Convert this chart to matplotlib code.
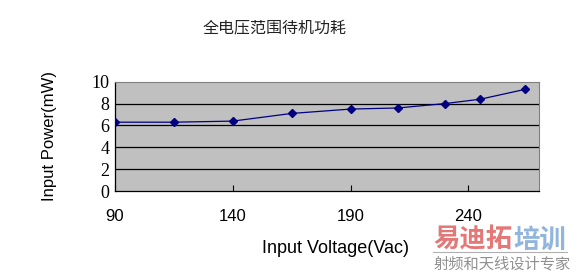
import matplotlib.pyplot as plt

plt.rcParams['font.family'] = ['Liberation Sans', 'Noto Sans CJK SC', 'DejaVu Sans']

# data
voltage = [90, 115, 140, 165, 190, 210, 230, 245, 264]
power = [6.3, 6.3, 6.4, 7.1, 7.5, 7.6, 8.0, 8.4, 9.3]
x_ticks = [90, 140, 190, 240]
y_ticks = [0, 2, 4, 6, 8, 10]

fig = plt.figure(figsize=(5.86, 2.77), dpi=100)
ax = fig.add_axes([0.196, 0.31, 0.724, 0.395])

ax.set_facecolor('#c0c0c0')
ax.plot(voltage, power, color='#000080', lw=0.9, marker='D', markersize=4.5,
        markerfacecolor='#000080', markeredgecolor='#000080', zorder=3)

ax.set_xlim(90, 270)
ax.set_ylim(0, 10)
ax.set_xticks(x_ticks)
ax.set_yticks(y_ticks)
for y in y_ticks[1:-1]:
    ax.axhline(y, color='black', lw=0.9, zorder=1)

ax.tick_params(axis='x', direction='in', length=4, width=0.8, pad=13, labelsize=12)
ax.tick_params(axis='y', length=0, pad=4, labelsize=13)
for lab in ax.get_yticklabels():
    lab.set_family('Liberation Serif')

for s in ['top', 'right']:
    ax.spines[s].set_color('#808080')
    ax.spines[s].set_linewidth(0.8)
for s in ['left', 'bottom']:
    ax.spines[s].set_color('black')
    ax.spines[s].set_linewidth(0.9)

ax.set_xlabel('Input Voltage(Vac)', fontsize=13, labelpad=12)
ax.xaxis.set_label_coords(0.52, -0.45)
ax.set_ylabel('Input Power(mW)', fontsize=12, labelpad=25)

fig.text(0.468, 0.90, '全电压范围待机功耗', ha='center', va='center', fontsize=11.5,
         family=['Noto Sans CJK SC'], color='#222222')

# watermark
fig.text(0.739, 0.132, '易迪拓', ha='left', va='center', fontsize=19,
         fontweight='bold', family=['Noto Sans CJK SC'], color='#e06060', alpha=0.85)
fig.text(0.876, 0.132, '培训', ha='left', va='center', fontsize=19,
         fontweight='bold', family=['Noto Sans CJK SC'], color='#7fa8d8', alpha=0.85)
fig.add_artist(plt.Line2D([0.739, 0.968], [0.092, 0.092], color='#b0b0b0', lw=0.8))
fig.text(0.739, 0.048, '射频和天线设计专家', ha='left', va='center', fontsize=11,
         family=['Noto Sans CJK SC'], color='#909090')

plt.savefig('out.png', dpi=100, facecolor='white')
